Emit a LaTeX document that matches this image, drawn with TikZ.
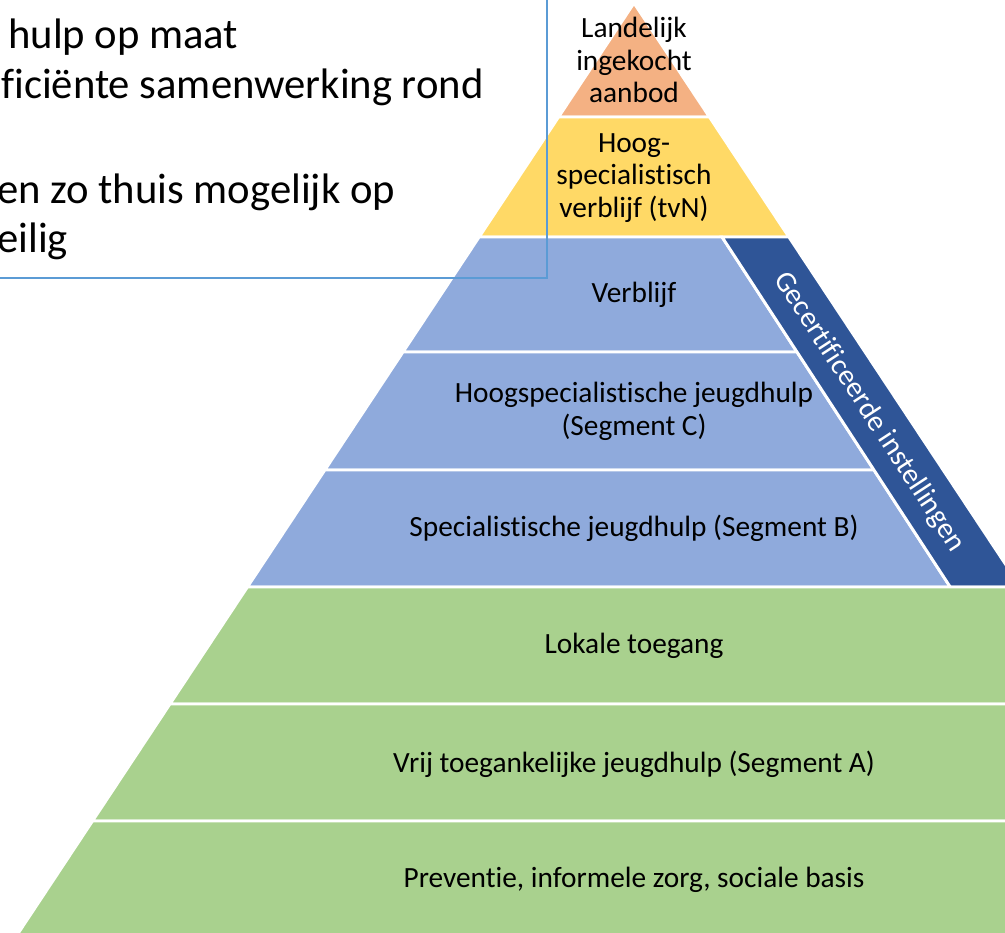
\documentclass[tikz,border=0pt]{standalone}
\usepackage{fontspec}
\setmainfont{Carlito}[Ligatures=NoCommon]
\definecolor{topfill}{HTML}{F4B183}
\definecolor{yelfill}{HTML}{FFD966}
\definecolor{bluefill}{HTML}{8FAADC}
\definecolor{bandfill}{HTML}{2F5597}
\definecolor{greenfill}{HTML}{A9D18E}
\definecolor{boxline}{HTML}{5B9BD5}
\begin{document}
\begin{tikzpicture}[x=0.75pt, y=-0.75pt,
    declare function={lx(\y)=634-0.662*(\y-3); rx(\y)=634+0.662*(\y-3); bx(\y)=724+0.652*(\y-240);},
    layer/.style={draw=white, line width=2.2pt, line join=miter},
    lbl/.style={align=center, font=\fontsize{22}{24.5}\selectfont},
    bigtxt/.style={anchor=base west, inner sep=0pt, font=\fontsize{32}{37.5}\selectfont}]
    \useasboundingbox (0,0) rectangle (1005,932);
    \clip (0,0) rectangle (1005,932);

    % Top and yellow layer
    \filldraw[layer, fill=topfill] (634,3) -- ({rx(117)},117) -- ({lx(117)},117) -- cycle;
    \filldraw[layer, fill=yelfill] ({lx(117)},117) -- ({rx(117)},117) -- ({rx(237)},237) -- ({lx(237)},237) -- cycle;

    % Blue layers, cut by the band
    \foreach \ya/\yb in {237/352, 352/470, 470/587}
        \filldraw[layer, fill=bluefill] ({lx(\ya)},\ya) -- ({bx(\ya)},\ya) -- ({bx(\yb)},\yb) -- ({lx(\yb)},\yb) -- cycle;
    \filldraw[layer, fill=bandfill] ({bx(237)},237) -- ({rx(237)},237) -- ({rx(587)},587) -- ({bx(587)},587) -- cycle;

    % Green layers
    \foreach \ya/\yb in {587/704, 704/821, 821/940}
        \filldraw[layer, fill=greenfill] ({lx(\ya)},\ya) -- ({rx(\ya)},\ya) -- ({rx(\yb)},\yb) -- ({lx(\yb)},\yb) -- cycle;

    % Labels
    \node[lbl] (aanbod) at (634,60) {Landelijk\\ingekocht\\aanbod};
    \node[lbl] (tvn) at (634,178) {Hoog-\\specialistisch\\verblijf (tvN)};
    \node[lbl] (verblijf) at (634,295) {Verblijf};
    \node[lbl] (segc) at (634,411) {Hoogspecialistische jeugdhulp\\(Segment C)};
    \node[lbl] (segb) at (634,528) {Specialistische jeugdhulp (Segment B)};
    \node[lbl] (lokaal) at (634,646) {Lokale toegang};
    \node[lbl] (sega) at (634,764) {Vrij toegankelijke jeugdhulp (Segment A)};
    \node[lbl] (basis) at (634,880) {Preventie, informele zorg, sociale basis};
    \node[lbl, text=white, rotate=-56.9] (gecert) at (869,412) {Gecertificeerde instellingen};

    % Text box
    \draw[boxline, line width=1.1pt] (-10,278) -- (547,278) -- (547,-10);
    \node[bigtxt] (regel1) at (8,48) {hulp op maat};
    \node[bigtxt] (regel2) at (1,98) {ficiënte samenwerking rond};
    \node[bigtxt] (regel3) at (-3,203) {en zo thuis mogelijk op};
    \node[bigtxt] (regel4) at (-3,252) {eilig};
\end{tikzpicture}
\end{document}
